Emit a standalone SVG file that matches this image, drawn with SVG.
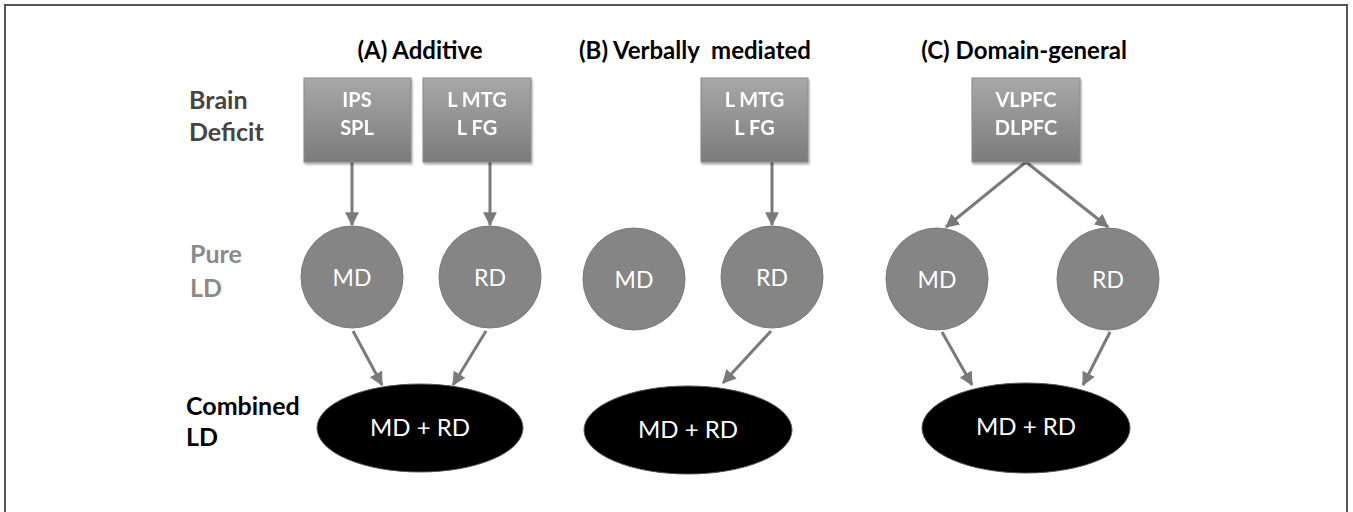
<svg xmlns="http://www.w3.org/2000/svg" width="1353" height="512" viewBox="0 0 1353 512">
<defs>
<linearGradient id="boxg" x1="0" y1="0" x2="0" y2="1">
<stop offset="0" stop-color="#a8a8a8"/>
<stop offset="1" stop-color="#7b7b7b"/>
</linearGradient>
<marker id="ah" viewBox="0 0 12 12" refX="11" refY="6" markerWidth="4.6" markerHeight="4.6" markerUnits="strokeWidth" orient="auto">
<path d="M0,0 L12,6 L0,12 Z" fill="#7a7a7a"/>
</marker>
<filter id="sh" x="-10%" y="-10%" width="125%" height="125%">
<feGaussianBlur in="SourceAlpha" stdDeviation="1.2"/>
<feOffset dx="1" dy="1.5" result="b"/>
<feComponentTransfer><feFuncA type="linear" slope="0.35"/></feComponentTransfer>
<feMerge><feMergeNode/><feMergeNode in="SourceGraphic"/></feMerge>
</filter>
</defs>
<style>
.title{font-family:Lato,"Liberation Sans",sans-serif;font-weight:bold;font-size:24px;fill:#000;text-anchor:middle}
.row{font-family:Lato,"Liberation Sans",sans-serif;font-weight:bold;font-size:25px}
.box{fill:url(#boxg);stroke:#8a8a8a;stroke-width:1}
.bt{font-family:Lato,"Liberation Sans",sans-serif;font-weight:bold;font-size:20px;fill:#fff;text-anchor:middle}
.circ{fill:#858585;stroke:#7a7a7a;stroke-width:1}
.ct{font-family:Lato,"Liberation Sans",sans-serif;font-size:23px;fill:#fff;text-anchor:middle}
.ell{fill:#000;stroke:#555;stroke-width:1}
.et{font-family:Lato,"Liberation Sans",sans-serif;font-size:24px;fill:#fff;text-anchor:middle}
.arr{stroke:#7a7a7a;stroke-width:3;fill:none;marker-end:url(#ah)}
</style>
<rect x="5" y="5" width="1342" height="540" fill="#fff" stroke="#555" stroke-width="2"/>
<g id="titles">
<text class="title" x="420" y="59">(A) Additive</text>
<text class="title" x="695" y="59">(B) Verbally <tspan dx="6">mediated</tspan></text>
<text class="title" x="1024" y="59">(C) Domain-general</text>
</g>
<g id="row-labels">
<text class="row" x="189" y="109" fill="#444">Brain</text>
<text class="row" x="189" y="141" fill="#444">Deficit</text>
<text class="row" x="190" y="263" fill="#8a8a8a">Pure</text>
<text class="row" x="190" y="297" fill="#8a8a8a">LD</text>
<text class="row" x="186" y="415" fill="#000">Combined</text>
<text class="row" x="186" y="446" fill="#000">LD</text>
</g>
<g id="connectors">
<line class="arr" x1="352" y1="162" x2="352" y2="225"/>
<line class="arr" x1="490" y1="162" x2="490" y2="225"/>
<line class="arr" x1="772" y1="162" x2="772" y2="225"/>
<line class="arr" x1="1026" y1="162" x2="946" y2="227"/>
<line class="arr" x1="1026" y1="162" x2="1108" y2="227"/>
<line class="arr" x1="353" y1="331" x2="382" y2="385"/>
<line class="arr" x1="486" y1="331" x2="453" y2="385"/>
<line class="arr" x1="771" y1="331" x2="723" y2="383"/>
<line class="arr" x1="942" y1="332" x2="972" y2="385"/>
<line class="arr" x1="1110" y1="332" x2="1083" y2="385"/>
</g>
<g id="box-A1" filter="url(#sh)">
<rect class="box" x="304" y="78" width="107" height="84"/>
<text class="bt" x="357" y="107">IPS</text>
<text class="bt" x="357" y="135">SPL</text>
</g>
<g id="box-A2" filter="url(#sh)">
<rect class="box" x="423" y="78" width="108" height="84"/>
<text class="bt" x="477" y="107">L MTG</text>
<text class="bt" x="477" y="135">L FG</text>
</g>
<g id="box-B" filter="url(#sh)">
<rect class="box" x="701" y="78" width="107" height="84"/>
<text class="bt" x="754.5" y="107">L MTG</text>
<text class="bt" x="754.5" y="135">L FG</text>
</g>
<g id="box-C" filter="url(#sh)">
<rect class="box" x="972" y="78" width="108" height="84"/>
<text class="bt" x="1026" y="107">VLPFC</text>
<text class="bt" x="1026" y="135">DLPFC</text>
</g>
<g id="circle-A-MD"><circle class="circ" cx="352" cy="277" r="51"/><text class="ct" x="352" y="286">MD</text></g>
<g id="circle-A-RD"><circle class="circ" cx="490" cy="277" r="51"/><text class="ct" x="490" y="286">RD</text></g>
<g id="circle-B-MD"><circle class="circ" cx="634" cy="279" r="51"/><text class="ct" x="634" y="288">MD</text></g>
<g id="circle-B-RD"><circle class="circ" cx="772" cy="277" r="51"/><text class="ct" x="772" y="286">RD</text></g>
<g id="circle-C-MD"><circle class="circ" cx="937" cy="279" r="51"/><text class="ct" x="937" y="288">MD</text></g>
<g id="circle-C-RD"><circle class="circ" cx="1108" cy="279" r="51"/><text class="ct" x="1108" y="288">RD</text></g>
<g id="ellipse-A"><ellipse class="ell" cx="420" cy="428" rx="103" ry="44"/><text class="et" x="420" y="436">MD + RD</text></g>
<g id="ellipse-B"><ellipse class="ell" cx="688" cy="430" rx="104" ry="44"/><text class="et" x="688" y="438">MD + RD</text></g>
<g id="ellipse-C"><ellipse class="ell" cx="1026" cy="428" rx="104" ry="45"/><text class="et" x="1026" y="435">MD + RD</text></g>
</svg>
